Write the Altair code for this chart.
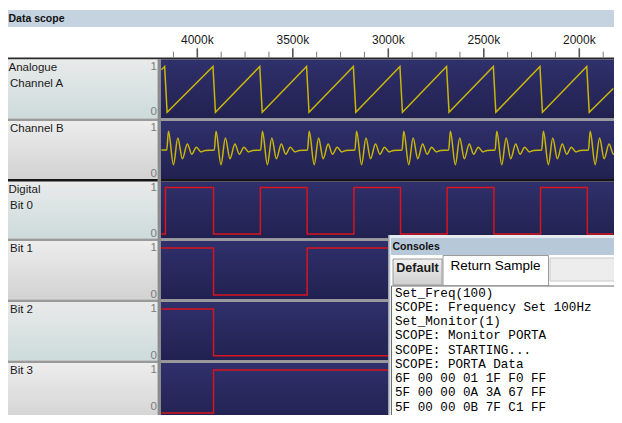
import altair as alt
import pandas as pd

# ---------------- data ----------------
major_ticks = [4000, 3500, 3000, 2500, 2000]                      # k samples
minor_ticks = [4125, 3875, 3750, 3625, 3375, 3250, 3125, 2875, 2750,
               2625, 2375, 2250, 2125, 1875]

header_title = "Data scope"
row_titles = [["Analogue", "Channel A"], ["Channel B"], ["Digital", "Bit 0"],
              ["Bit 1"], ["Bit 2"], ["Bit 3"]]

# Channel A: sawtooth (time in k, value 0..1)
saw_t = [4188, 4171, 4158, 3918, 3905, 3673, 3660, 3428, 3415, 3183, 3170,
         2939, 2926, 2695, 2682, 2450, 2437, 2206, 2193, 1961, 1948, 1822]
saw_v = [0.93, 1, 0, 1, 0, 1, 0, 1, 0, 1, 0,
         1, 0, 1, 0, 1, 0, 1, 0, 1, 0, 0.52]

# Channel B: repeating damped bursts
chb_start = (4188, 0.51)
burst_peak_t = [4151, 3902, 3659, 3414, 3166, 2919, 2675, 2432, 2188, 1943]
burst_offset_k = [-9, 0, 26, 49, 73, 99, 122, 146, 171, 192]
burst_v = [0.51, 0.92, 0.19, 0.77, 0.32, 0.64, 0.42, 0.57, 0.47, 0.50]

# Digital bits: level held from each edge time until the next one
edge_t = [4188, 4167, 3915, 3670, 3425, 3180, 2936, 2692, 2447, 2203, 1958, 1822]
bit0 = [0, 1, 0, 1, 0, 1, 0, 1, 0, 1, 0, 0]
bit1 = [1, 1, 0, 0, 1, 1, 0, 0, 1, 1, 0, 0]
bit2 = [1, 1, 0, 0, 0, 0, 1, 1, 1, 1, 0, 0]
bit3 = [0, 0, 1, 1, 1, 1, 1, 1, 1, 1, 0, 0]

console_title = "Consoles"
console_tabs = ["Default", "Return Sample"]
console_lines = ["Set_Freq(100)", "SCOPE: Frequency Set 100Hz", "Set_Monitor(1)",
                 "SCOPE: Monitor PORTA", "SCOPE: STARTING...", "SCOPE: PORTA Data",
                 "6F 00 00 01 1F F0 FF", "5F 00 00 0A 3A 67 FF", "5F 00 00 0B 7F C1 FF"]

# ---------------- layout helpers ----------------
W, H = 606, 407
OFF = 8  # reference picture coordinates -> chart coordinates
dummy = pd.DataFrame({"_": [0]})
SANS = "Liberation Sans"

XS = alt.Scale(domain=[4000, 2000], range=[197.3 - OFF, 579.3 - OFF])
# per-row value scales: [pixel of 0, pixel of 1]
row_ranges = [[112.3, 66.5], [173.5, 127.5], [234, 187.5],
              [295, 248], [355.7, 309], [413, 370]]
row_spans = [(59.5, 118.5), (121, 179), (181.5, 238.5),
             (241, 299.5), (302, 360.5), (363, 423)]
teal = ("#e9eaea", "#cddbdb")
neutral = ("#ededed", "#d2d2d2")
row_panel_colors = [teal, neutral, teal, neutral, teal, neutral]


def grad(c0, c1):
    return alt.Gradient(gradient="linear",
                        stops=[alt.GradientStop(color=c0, offset=0),
                               alt.GradientStop(color=c1, offset=1)],
                        x1=0, x2=0, y1=0, y2=1)


def box(x1, y1, x2, y2, fill, stroke=None, sw=1.0):
    kw = dict(fill=fill)
    if stroke:
        kw.update(stroke=stroke, strokeWidth=sw)
    return alt.Chart(dummy).mark_rect(**kw).encode(
        x=alt.value(x1 - OFF), x2=alt.value(x2 - OFF),
        y=alt.value(y1 - OFF), y2=alt.value(y2 - OFF))


def label(txt, x, y, size=11.5, color="#1a1a1a", align="left", weight="normal",
          font=SANS):
    return alt.Chart(dummy).mark_text(
        text=txt, align=align, baseline="middle", font=font, fontSize=size,
        color=color, fontWeight=weight).encode(x=alt.value(x - OFF), y=alt.value(y - OFF))


def yscale(i):
    lo, hi = row_ranges[i]
    return alt.Scale(domain=[0, 1], range=[lo - OFF, hi - OFF])


layers = []

# header bar + axis strip
layers.append(box(0, 10, 622, 27, "#c4d3df"))
layers.append(box(0, 57.5, 622, 59.5, "#2a2a2a"))

# row panels
for i, (top, bot) in enumerate(row_spans):
    c0, c1 = row_panel_colors[i]
    layers.append(box(0, top, 157.5, bot, grad(c0, c1)))
    layers.append(box(161, top, 622, bot, grad("#30306c", "#212150")))
# separators
for (a, b) in [(118.5, 121), (238.5, 241), (299.5, 302), (360.5, 363)]:
    layers.append(box(0, a, 622, b, "#9a9a9a"))
layers.append(box(0, 179, 622, 181.5, "#151515"))
layers.append(box(157.5, 59.5, 161, 423, "#8c8c8c"))

# time axis (ticks + labels through the x scale)
ticks_major_df = pd.DataFrame({"t": major_ticks, "lab": [f"{t}k" for t in major_ticks]})
ticks_minor_df = pd.DataFrame({"t": minor_ticks})
layers.append(alt.Chart(ticks_minor_df).mark_rule(color="#7a7a7a", strokeWidth=1).encode(
    x=alt.X("t:Q", scale=XS, axis=None), y=alt.value(51.7 - OFF), y2=alt.value(57.5 - OFF)))
layers.append(alt.Chart(ticks_major_df).mark_rule(color="#555555", strokeWidth=1.6).encode(
    x=alt.X("t:Q", scale=XS, axis=None), y=alt.value(48.3 - OFF), y2=alt.value(57.5 - OFF)))
layers.append(alt.Chart(ticks_major_df).mark_text(
    font=SANS, fontSize=12, color="#1a1a1a", baseline="middle").encode(
    x=alt.X("t:Q", scale=XS, axis=None), y=alt.value(39.7 - OFF), text="lab:N"))

# ---------- signals ----------
saw_df = pd.DataFrame({"t": saw_t, "v": saw_v})
layers.append(alt.Chart(saw_df).mark_line(color="#c9b60a", strokeWidth=1.5, clip=True).encode(
    x=alt.X("t:Q", scale=XS, axis=None), y=alt.Y("v:Q", scale=yscale(0), axis=None),
    order=alt.Order("t:Q", sort="descending")))

chb_t = [chb_start[0]]
chb_v = [chb_start[1]]
for p in burst_peak_t:
    for o, v in zip(burst_offset_k, burst_v):
        chb_t.append(p - o)
        chb_v.append(v)
chb_df = pd.DataFrame({"t": chb_t, "v": chb_v})
layers.append(alt.Chart(chb_df).mark_line(color="#c9b60a", strokeWidth=1.5, clip=True,
                                          interpolate="monotone").encode(
    x=alt.X("t:Q", scale=XS, axis=None), y=alt.Y("v:Q", scale=yscale(1), axis=None),
    order=alt.Order("t:Q", sort="descending")))

for r, bits in zip([2, 3, 4, 5], [bit0, bit1, bit2, bit3]):
    bdf = pd.DataFrame({"t": edge_t, "v": bits})
    layers.append(alt.Chart(bdf).mark_line(color="#d8141e", strokeWidth=1.5, clip=True,
                                           interpolate="step-after").encode(
        x=alt.X("t:Q", scale=XS, axis=None), y=alt.Y("v:Q", scale=yscale(r), axis=None),
        order=alt.Order("t:Q", sort="descending")))

# value labels "1" / "0" on each row (through the row scale)
for r in range(6):
    for val, s in [(1, "1"), (0, "0")]:
        vdf = pd.DataFrame({"v": [val], "s": [s]})
        dy = -6 if (r == 5 and val == 0) else 0
        layers.append(alt.Chart(vdf).mark_text(
            font=SANS, fontSize=11.5, color="#7c7c7c", align="right", baseline="middle",
            dy=dy).encode(x=alt.value(157 - OFF),
                          y=alt.Y("v:Q", scale=yscale(r), axis=None), text="s:N"))

# row titles
for i, (top, bot) in enumerate(row_spans):
    names = row_titles[i]
    if len(names) == 2:
        layers.append(label(names[0], 8.5, top + 8))
        layers.append(label(names[1], 10, top + 24))
    else:
        layers.append(label(names[0], 10, top + 8))

layers.append(label(header_title, 8.5, 18.5, size=10.5, weight="bold", color="#111111"))

# ---------- console window ----------
layers.append(box(388, 235, 622, 423, "#e6ebf0"))
layers.append(box(388, 235, 389.5, 423, "#9aa4ae"))
layers.append(box(391, 238, 622, 255, "#b7c8d9"))
layers.append(box(391, 255, 622, 286, "#ffffff"))
layers.append(box(550, 258, 622, 281, "#ededed", stroke="#c8c8c8"))
layers.append(box(393, 259, 442, 285, grad("#f0f0f0", "#cfcfcf"), stroke="#9a9a9a"))
layers.append(box(443, 255.5, 548.5, 286, "#ffffff", stroke="#9a9a9a"))
layers.append(box(391.5, 286, 623, 424, "#ffffff", stroke="#6e6e6e"))
layers.append(label(console_title, 392.5, 247, size=10.5, weight="bold", color="#111111"))
layers.append(label(console_tabs[0], 417.5, 268, size=12.5, weight="bold", align="center"))
layers.append(label(console_tabs[1], 495.5, 266, size=13.5, align="center", color="#000000"))

cons_df = pd.DataFrame({"i": list(range(len(console_lines))), "line": console_lines})
layers.append(alt.Chart(cons_df).mark_text(
    font="Liberation Mono", fontSize=12.6, align="left", baseline="middle",
    color="#000000").encode(
    x=alt.value(395 - OFF),
    y=alt.Y("i:Q", scale=alt.Scale(domain=[0, 8], range=[292.5 - OFF, 406.5 - OFF]), axis=None),
    text="line:N"))

chart = alt.layer(*layers).resolve_scale(x="independent", y="independent").properties(
    width=W, height=H, autosize=alt.AutoSizeParams(type="none"), padding=0,
    background="white").configure_view(stroke=None)

chart.save("out.html", embed_options={"renderer": "svg", "actions": False})
